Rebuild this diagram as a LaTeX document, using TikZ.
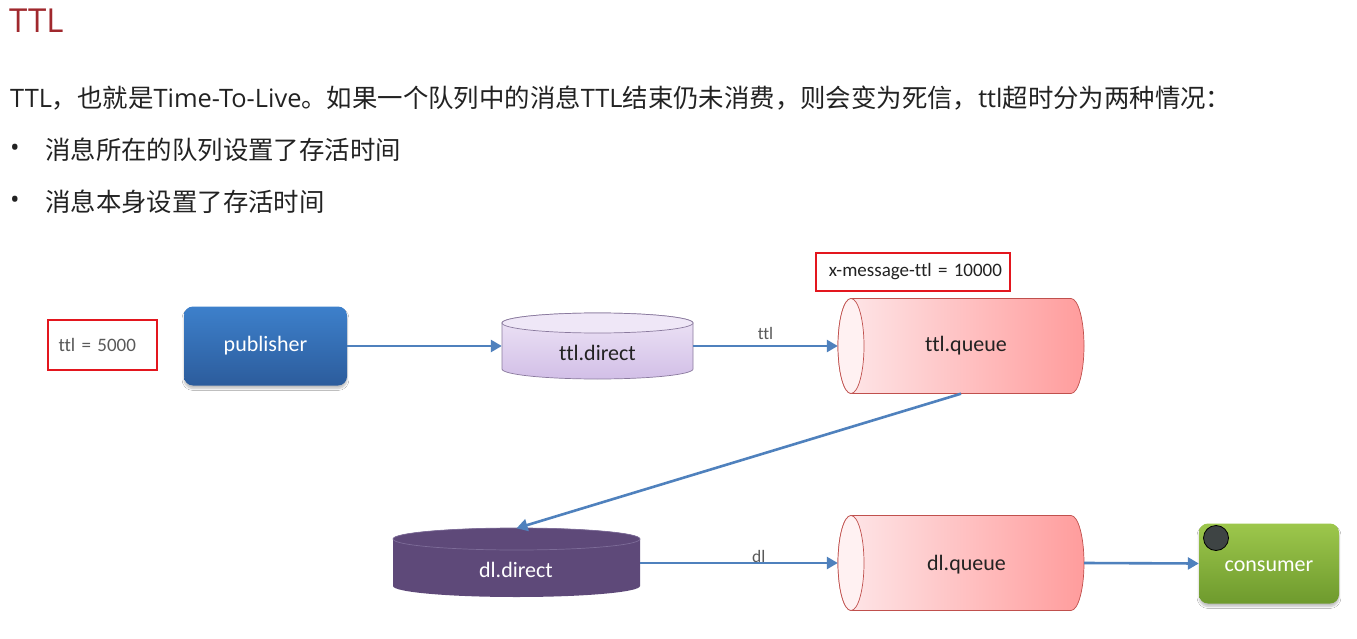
\documentclass[tikz,border=0pt]{standalone}
\usepackage{fontspec}
\setmainfont{Carlito}[Ligatures=NoCommon]
\newfontfamily\cjk{Noto Sans CJK SC}
\newfontfamily\lat{Open Sans}
\usetikzlibrary{arrows.meta,shadows.blur}
\definecolor{titlered}{HTML}{A0282D}
\definecolor{bodytext}{HTML}{222222}
\definecolor{boxred}{HTML}{E3161E}
\definecolor{graytext}{HTML}{595959}
\definecolor{arrowblue}{HTML}{4F81BD}
\definecolor{pubtop}{HTML}{3D80CB}
\definecolor{pubbot}{HTML}{2C5C9C}
\definecolor{tdtop}{HTML}{EEE5F6}
\definecolor{tdbot}{HTML}{D2BFE7}
\definecolor{tdend}{HTML}{EFE7F7}
\definecolor{tdborder}{HTML}{8A7A9E}
\definecolor{ddfill}{HTML}{5E4979}
\definecolor{ddedge}{HTML}{7D6C98}
\definecolor{qleft}{HTML}{FEE8EA}
\definecolor{qright}{HTML}{FF9C9C}
\definecolor{qend}{HTML}{FFF1F2}
\definecolor{qborder}{HTML}{C0504D}
\definecolor{contop}{HTML}{9DC74C}
\definecolor{conbot}{HTML}{6E9A2D}
\definecolor{knob}{HTML}{3E4444}
\tikzset{
  frame/.style={draw=none, inner sep=0pt},
  flow/.style={draw=arrowblue, line width=2.6pt, -{Triangle[length=11pt,width=12pt]}},
  redbox/.style={draw=boxred, line width=2.6pt, inner sep=0pt},
  lbl/.style={text=graytext, font=\fontsize{17.5}{20}\selectfont, inner sep=0pt, anchor=base},
  dtext/.style={font=\fontsize{22}{26}\selectfont, inner sep=0pt},
  bodyline/.style={anchor=west, text=bodytext, inner sep=0pt, font=\cjk\fontsize{25.4}{30}\selectfont},
  roundbox/.style={rounded corners=9pt, inner sep=0pt, blur shadow={shadow xshift=0pt, shadow yshift=-3pt, shadow opacity=25, shadow blur steps=6}}
}
\begin{document}
\begin{tikzpicture}[x=1pt,y=-1pt]
\useasboundingbox[fill=white] (0,0) rectangle (1357,639);

% --- text block ---
\node[anchor=west, text=titlered, inner sep=0pt, font=\lat\fontsize{33}{36}\selectfont] (title) at (9,21) {TTL};
\node[bodyline] (intro) at (10,98) {{\lat TTL}，也就是{\lat Time-To-Live}。如果一个队列中的消息{\lat TTL}结束仍未消费，则会变为死信，{\lat ttl}超时分为两种情况：};
\node[bodyline, font=\lat\fontsize{25.4}{30}\selectfont] (b1) at (10,150) {•};
\node[bodyline] (t1) at (45,150) {消息所在的队列设置了存活时间};
\node[bodyline, font=\lat\fontsize{25.4}{30}\selectfont] (b2) at (10,202) {•};
\node[bodyline] (t2) at (45,202) {消息本身设置了存活时间};

% --- red annotation boxes ---
\node[redbox, minimum height=50pt, text width=88pt, inner xsep=10.5pt, align=left, text=graytext, font=\fontsize{19}{22}\selectfont] (ttlbox) at (102.5,345) {ttl = 5000};
\node[redbox, minimum height=38pt, text width=178pt, inner xsep=8pt, align=right, font=\fontsize{19}{22}\selectfont, text=bodytext] (xmbox) at (913,272) {x-message-ttl = 10000};

% --- publisher ---
\node[roundbox, top color=pubtop, bottom color=pubbot, minimum width=163pt, minimum height=79pt, text=white, font=\fontsize{22}{26}\selectfont] (pub) at (265.5,346) {publisher};

% --- ttl.direct (vertical cylinder) ---
\node[frame, minimum width=191pt, minimum height=67pt] (tdir) at (597.5,346) {};
\path[draw=tdborder, line width=0.7pt, top color=tdtop, bottom color=tdbot]
  (502,323) -- (502,369) arc[start angle=180, end angle=360, x radius=95.5pt, y radius=10pt]
  -- (693,323) arc[start angle=0, end angle=180, x radius=95.5pt, y radius=10pt] -- cycle;
\path[draw=tdborder, line width=0.7pt, fill=tdend] (597.5,323) ellipse[x radius=95.5pt, y radius=10pt];
\node[dtext, text=bodytext] (tdirtext) at (597.5,353) {ttl.direct};

% --- ttl.queue (horizontal cylinder) ---
\node[frame, minimum width=246pt, minimum height=95pt] (tq) at (961,346) {};
\path[draw=qborder, line width=0.7pt, left color=qleft, right color=qright]
  (851,298.5) -- (1071,298.5) arc[start angle=90, end angle=-90, x radius=13pt, y radius=47.5pt]
  -- (851,393.5) arc[start angle=270, end angle=90, x radius=13pt, y radius=47.5pt] -- cycle;
\path[draw=qborder, line width=0.7pt, fill=qend] (851,346) ellipse[x radius=13pt, y radius=47.5pt];
\node[dtext, text=bodytext] (tqtext) at (966,346) {ttl.queue};

% --- dl.direct (vertical cylinder) ---
\node[frame, minimum width=247pt, minimum height=69pt] (dd) at (516.5,563) {};
\path[fill=ddfill]
  (393,539) -- (393,586) arc[start angle=180, end angle=360, x radius=123.5pt, y radius=11pt]
  -- (640,539) arc[start angle=0, end angle=180, x radius=123.5pt, y radius=11pt] -- cycle;
\path[draw=ddedge, line width=0.7pt, fill=ddfill] (516.5,539) ellipse[x radius=123.5pt, y radius=11pt];
\node[dtext, text=white] (ddtext) at (516,570) {dl.direct};

% --- dl.queue (horizontal cylinder) ---
\node[frame, minimum width=246pt, minimum height=95pt] (dq) at (961,563) {};
\path[draw=qborder, line width=0.7pt, left color=qleft, right color=qright]
  (851,515.5) -- (1071,515.5) arc[start angle=90, end angle=-90, x radius=13pt, y radius=47.5pt]
  -- (851,610.5) arc[start angle=270, end angle=90, x radius=13pt, y radius=47.5pt] -- cycle;
\path[draw=qborder, line width=0.7pt, fill=qend] (851,563) ellipse[x radius=13pt, y radius=47.5pt];
\node[dtext, text=bodytext] (dqtext) at (966.5,565) {dl.queue};

% --- consumer ---
\node[roundbox, top color=contop, bottom color=conbot, minimum width=140pt, minimum height=80pt] (con) at (1269,563.5) {};
\node[dtext, text=white] (context) at (1269,566) {consumer};
\node[circle, draw=black, line width=0.8pt, fill=knob, minimum size=25pt, inner sep=0pt] (knobc) at (1216,538) {};

% --- connectors ---
\draw[flow] (pub.east) -- (tdir.west);
\draw[flow] (tdir.east) -- node[lbl, midway, yshift=7pt] (lttl) {ttl} (tq.west);
\draw[flow] (tq.south) -- (dd.north);
\draw[flow] (dd.east) -- node[lbl, pos=0.6, yshift=1pt] (ldl) {dl} (dq.west);
\draw[flow] (dq.east) -- (con.west);
\end{tikzpicture}
\end{document}
